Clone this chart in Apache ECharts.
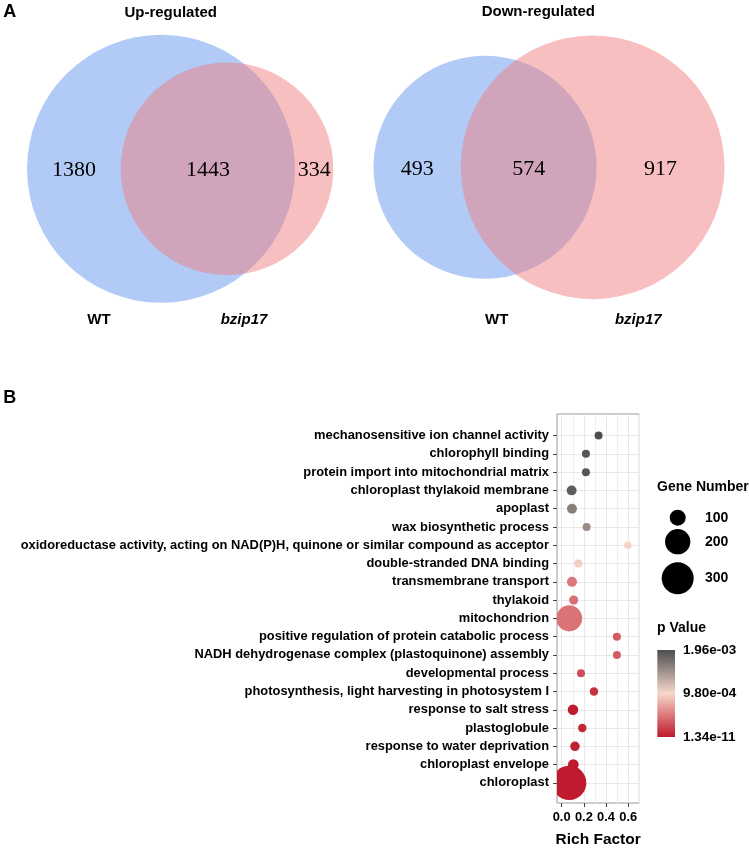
<!DOCTYPE html>
<html><head><meta charset="utf-8">
<script src="https://cdn.jsdelivr.net/npm/echarts@6/dist/echarts.min.js"></script>
<style>html,body{margin:0;padding:0;background:#fff}#c{width:749px;height:849px}</style>
</head><body><div id="c"></div>
<script>
// ---------- data ----------
const setNames = ['WT', 'bzip17'];
const upCounts = [1380, 1443, 334];     // WT only, both, bzip17 only
const downCounts = [493, 574, 917];
const categories = [
  'mechanosensitive ion channel activity',
  'chlorophyll binding',
  'protein import into mitochondrial matrix',
  'chloroplast thylakoid membrane',
  'apoplast',
  'wax biosynthetic process',
  'oxidoreductase activity, acting on NAD(P)H, quinone or similar compound as acceptor',
  'double-stranded DNA binding',
  'transmembrane transport',
  'thylakoid',
  'mitochondrion',
  'positive regulation of protein catabolic process',
  'NADH dehydrogenase complex (plastoquinone) assembly',
  'developmental process',
  'photosynthesis, light harvesting in photosystem I',
  'response to salt stress',
  'plastoglobule',
  'response to water deprivation',
  'chloroplast envelope',
  'chloroplast'
];
const richFactor = [0.333, 0.219, 0.219, 0.090, 0.093, 0.225, 0.597, 0.150, 0.093, 0.108,
                    0.068, 0.498, 0.498, 0.174, 0.291, 0.102, 0.186, 0.120, 0.105, 0.068];
const geneNumber = [50, 50, 50, 59, 59, 50, 48, 50, 60, 55,
                    210, 50, 50, 50, 52, 62, 52, 57, 63, 340];
const pValue = [1.96e-3, 1.90e-3, 1.90e-3, 1.85e-3, 1.61e-3, 1.51e-3, 1.00e-3, 9.3e-4, 4.98e-4, 4.4e-4,
                4.6e-4, 3.37e-4, 3.4e-4, 2.6e-4, 1.25e-4, 5e-6, 5.7e-5, 3e-5, 1e-6, 1.34e-11];
const xTicks = [0, 0.2, 0.4, 0.6];
const xMinorGrid = [0.1, 0.3, 0.5, 0.7];
const sizeBreaks = [100, 200, 300];
const pBreaks = [1.96e-3, 9.80e-4, 1.34e-11];
const pBreakLabels = ['1.96e-03', '9.80e-04', '1.34e-11'];

// ---------- helpers ----------
const SANS = '"Liberation Sans", Arial, sans-serif';
const SERIF = '"Liberation Serif", "Times New Roman", serif';
const vennFill = ['rgba(100,149,237,0.5)', 'rgba(240,128,128,0.5)'];
const pColors = ['#BF1A2D', '#F7D7CA', '#4D4D4D'];

function sizeScale(n) { return Math.sqrt(Math.max(4, 3.84 * n - 128)); }

function lensArea(r1, r2, d) {
  if (d >= r1 + r2) return 0;
  if (d <= Math.abs(r1 - r2)) return Math.PI * Math.min(r1, r2) ** 2;
  const a1 = Math.acos((d*d + r1*r1 - r2*r2) / (2*d*r1));
  const a2 = Math.acos((d*d + r2*r2 - r1*r1) / (2*d*r2));
  const k = Math.sqrt((-d+r1+r2)*(d+r1-r2)*(d-r1+r2)*(d+r1+r2));
  return r1*r1*a1 + r2*r2*a2 - 0.5*k;
}
function solveD(r1, r2, target) {
  let lo = Math.abs(r1 - r2), hi = r1 + r2;
  for (let i = 0; i < 100; i++) {
    const m = (lo + hi) / 2;
    if (lensArea(r1, r2, m) > target) lo = m; else hi = m;
  }
  return (lo + hi) / 2;
}
function vennLayout(counts) {
  const A = counts[0] + counts[1], B = counts[2] + counts[1];
  const rA = Math.sqrt(A / Math.PI), rB = Math.sqrt(B / Math.PI);
  const d = solveD(rA, rB, counts[1]);
  const left = -rA, right = d + rB, R = Math.max(rA, rB);
  const s = Math.min(351 / (right - left), 268 / (2 * R));
  return {
    rA, rB, d, s, cx: (left + right) / 2,
    circles: [[0, 0, rA, 0], [d, 0, rB, 1]],
    labels: [[(left + d - rB) / 2, 0, counts[0]], [(d - rB + rA) / 2, 0, counts[1]], [(rA + right) / 2, 0, counts[2]]]
  };
}
const GW = 360, GH = 290;
function vennGrid(L, pcx, pcy) {
  return {
    grid: { left: pcx - GW/2, top: pcy - GH/2, width: GW, height: GH, outerBoundsMode: 'none' },
    x: { min: L.cx - (GW/2) / L.s, max: L.cx + (GW/2) / L.s },
    y: { min: -(GH/2) / L.s, max: (GH/2) / L.s }
  };
}
const upL = vennLayout(upCounts), downL = vennLayout(downCounts);
const upG = vennGrid(upL, 180.2, 168.8), downG = vennGrid(downL, 549, 167.3);

function circleRender(params, api) {
  const c = api.coord([api.value(0), api.value(1)]);
  const r = api.size([api.value(2), 0])[0];
  return { type: 'circle', shape: { cx: c[0], cy: c[1], r: r }, style: { fill: vennFill[api.value(3)] } };
}
function numberRender(params, api) {
  const c = api.coord([api.value(0), api.value(1)]);
  return { type: 'text', x: c[0], y: c[1] + 1.5,
    style: { text: String(api.value(2)), fill: '#000', font: '22px ' + SERIF,
             align: 'center', verticalAlign: 'middle', textAlign: 'center', textVerticalAlign: 'middle' } };
}
function bubbleRender(params, api) {
  const c = api.coord([api.value(0), api.value(1)]);
  return { type: 'circle', shape: { cx: c[0], cy: c[1], r: sizeScale(api.value(2)) / 2 },
           style: { fill: api.visual('color') } };
}

const hiddenAxis = (gi, r) => ({ gridIndex: gi, type: 'value', min: r.min, max: r.max, show: false,
  axisLine: {show:false, onZero:false}, axisTick: {show:false}, axisLabel: {show:false}, splitLine: {show:false} });

// bubble panel geometry
const P = { left: 557, top: 414, width: 82.3, height: 389 };
const yIdx = categories.map((c, i) => i);

function txt(t, x, y, size, opts) {
  opts = opts || {};
  return { type: 'text', x: x, y: y, silent: true,
    style: { text: t, fill: '#000', font: (opts.style || '') + ' ' + (opts.weight || 'bold') + ' ' + size + 'px ' + SANS,
      align: opts.align || 'center', verticalAlign: 'middle', textAlign: opts.align || 'center', textVerticalAlign: 'middle' } };
}

const graphics = [
  txt('A', 9.7, 11.7, 18),
  txt('B', 9.7, 398.3, 18),
  txt('Up-regulated', 170.7, 12.7, 15),
  txt('Down-regulated', 538.3, 12.3, 15),
  txt(setNames[0], 99, 320, 15),
  txt(setNames[1], 244, 320, 15, { style: 'italic' }),
  txt(setNames[0], 496.7, 320, 15),
  txt(setNames[1], 638.3, 320, 15, { style: 'italic' }),
  txt('Rich Factor', P.left + P.width / 2, 840, 15.5),
  txt('Gene Number', 657, 487, 14, { align: 'left' }),
  txt('p Value', 657, 628.3, 14, { align: 'left' })
];
const sizeY = [517.7, 541.7, 578.3];
sizeBreaks.forEach((n, i) => {
  graphics.push({ type: 'circle', silent: true, shape: { cx: 677.7, cy: sizeY[i], r: sizeScale(n) / 2 }, style: { fill: '#000' } });
  graphics.push(txt(String(n), 705, sizeY[i], 14, { align: 'left' }));
});
const barTop = 650, barH = 87, pMin = pBreaks[2], pMax = pBreaks[0];
graphics.push({ type: 'rect', silent: true, shape: { x: 657.3, y: barTop, width: 17.7, height: barH },
  style: { fill: new echarts.graphic.LinearGradient(0, 0, 0, 1, [
    { offset: 0, color: pColors[2] }, { offset: 0.5, color: pColors[1] }, { offset: 1, color: pColors[0] }]) } });
pBreaks.forEach((p, i) => {
  const y = barTop + barH * (pMax - p) / (pMax - pMin);
  graphics.push(txt(pBreakLabels[i], 683, y, 13.5, { align: 'left' }));
});

const LABEL_FS = 12.9;
const option = {
  animation: false,
  backgroundColor: '#fff',
  grid: [
    upG.grid, downG.grid,
    { left: P.left, top: P.top, width: P.width, height: P.height, show: true, borderColor: '#9a9a9a', borderWidth: 1,
      backgroundColor: '#fff', outerBoundsMode: 'none' }
  ],
  xAxis: [
    hiddenAxis(0, upG.x), hiddenAxis(1, downG.x),
    { gridIndex: 2, type: 'value', min: -0.042, max: 0.70, position: 'bottom',
      axisLine: { show: false, onZero: false },
      axisTick: { show: true, length: 4, customValues: xTicks, lineStyle: { color: '#444' } },
      axisLabel: { customValues: xTicks, formatter: v => v.toFixed(1), color: '#000', fontWeight: 'bold',
                   fontSize: LABEL_FS, fontFamily: SANS, margin: 8 },
      splitLine: { show: true, lineStyle: { color: '#E8E8E8', width: 1 } } },
    { gridIndex: 2, type: 'value', min: -0.042, max: 0.70, position: 'bottom',
      axisLine: { show: false, onZero: false }, axisTick: { show: false, customValues: xMinorGrid },
      axisLabel: { show: false, customValues: xMinorGrid },
      splitLine: { show: true, lineStyle: { color: '#EEEEEE', width: 1 } } }
  ],
  yAxis: [
    hiddenAxis(0, upG.y), hiddenAxis(1, downG.y),
    { gridIndex: 2, type: 'value', inverse: true, min: -1.18, max: 20.10, position: 'left',
      axisLine: { show: false, onZero: false },
      axisTick: { show: true, length: 4, customValues: yIdx, lineStyle: { color: '#444' } },
      axisLabel: { customValues: yIdx, formatter: v => categories[Math.round(v)], color: '#000', fontWeight: 'bold',
                   fontSize: LABEL_FS, fontFamily: SANS, margin: 8 },
      splitLine: { show: true, lineStyle: { color: '#E8E8E8', width: 1 } } }
  ],
  visualMap: [{ show: false, type: 'continuous', seriesIndex: 4, dimension: 3, min: pMin, max: pMax,
    inRange: { color: pColors } }],
  series: [
    { type: 'custom', xAxisIndex: 0, yAxisIndex: 0, renderItem: circleRender, data: upL.circles, silent: true },
    { type: 'custom', xAxisIndex: 0, yAxisIndex: 0, renderItem: numberRender, data: upL.labels, silent: true },
    { type: 'custom', xAxisIndex: 1, yAxisIndex: 1, renderItem: circleRender, data: downL.circles, silent: true },
    { type: 'custom', xAxisIndex: 1, yAxisIndex: 1, renderItem: numberRender, data: downL.labels, silent: true },
    { type: 'custom', xAxisIndex: 2, yAxisIndex: 2, clip: true, renderItem: bubbleRender,
      encode: { x: 0, y: 1 },
      data: categories.map((c, i) => [richFactor[i], i, geneNumber[i], pValue[i]]) }
  ],
  graphic: graphics
};
const chart = echarts.init(document.getElementById('c'), null, { renderer: 'canvas' });
chart.setOption(option);
</script></body></html>
